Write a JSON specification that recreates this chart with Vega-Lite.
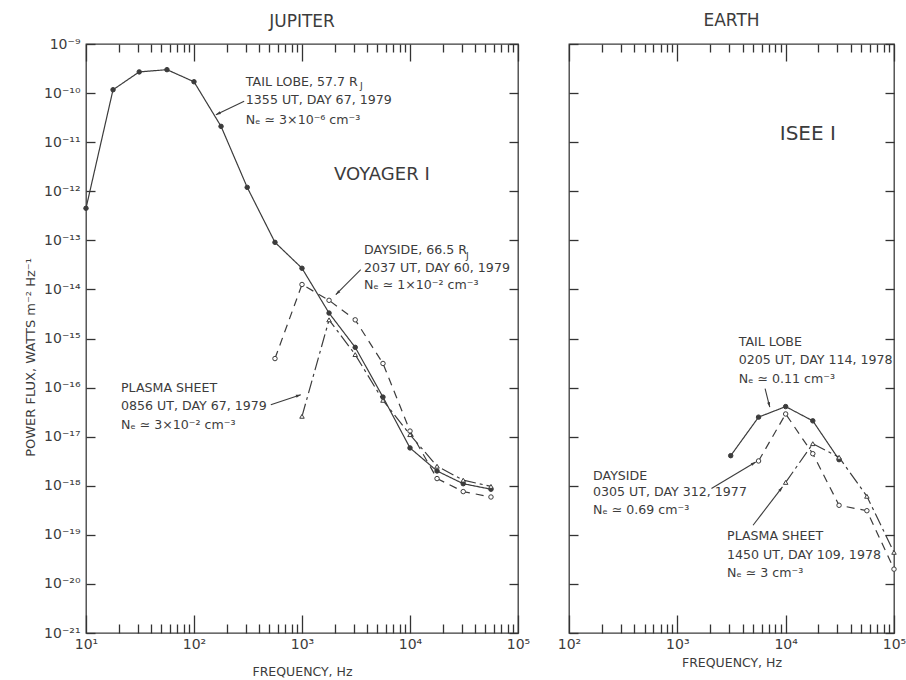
{
  "$schema": "https://vega.github.io/schema/vega-lite/v6.json",
  "background": "white",
  "padding": {"left": 23, "top": 11, "right": 0, "bottom": 5},
  "spacing": 25,
  "config": {
    "font": "DejaVu Sans",
    "view": {"stroke": "#3c3c3c", "strokeWidth": 1.3},
    "axis": {"domain": false, "grid": false, "ticks": true, "tickOpacity": 1, "zindex": 1, "tickColor": "#333333", "tickWidth": 1.3, "labelColor": "#3c3c3c", "titleColor": "#3c3c3c", "labelFont": "DejaVu Sans", "titleFont": "DejaVu Sans", "titleFontWeight": "normal", "labelFontSize": 14, "titleFontSize": 12.5, "labelOverlap": false, "labelFlush": false},
    "title": {"font": "DejaVu Sans", "fontWeight": "normal", "fontSize": 17, "color": "#3c3c3c", "offset": 6},
    "text": {"font": "DejaVu Sans", "color": "#3c3c3c"}
  },
  "datasets": {
    "jup": [
      {"series": "TAIL LOBE", "f": 10, "p": 4.5e-13},
      {"series": "TAIL LOBE", "f": 17.8, "p": 1.17e-10},
      {"series": "TAIL LOBE", "f": 31.1, "p": 2.7e-10},
      {"series": "TAIL LOBE", "f": 56.2, "p": 3.0e-10},
      {"series": "TAIL LOBE", "f": 100, "p": 1.7e-10},
      {"series": "TAIL LOBE", "f": 178, "p": 2.1e-11},
      {"series": "TAIL LOBE", "f": 311, "p": 1.2e-12},
      {"series": "TAIL LOBE", "f": 562, "p": 9.1e-14},
      {"series": "TAIL LOBE", "f": 1000, "p": 2.7e-14},
      {"series": "TAIL LOBE", "f": 1780, "p": 3.3e-15},
      {"series": "TAIL LOBE", "f": 3110, "p": 6.6e-16},
      {"series": "TAIL LOBE", "f": 5620, "p": 6.4e-17},
      {"series": "TAIL LOBE", "f": 10000, "p": 5.9e-18},
      {"series": "TAIL LOBE", "f": 17800, "p": 2.0e-18},
      {"series": "TAIL LOBE", "f": 31100, "p": 1.1e-18},
      {"series": "TAIL LOBE", "f": 56200, "p": 8.5e-19},
      {"series": "DAYSIDE", "f": 562, "p": 3.9e-16},
      {"series": "DAYSIDE", "f": 1000, "p": 1.26e-14},
      {"series": "DAYSIDE", "f": 1780, "p": 6.0e-15},
      {"series": "DAYSIDE", "f": 3110, "p": 2.4e-15},
      {"series": "DAYSIDE", "f": 5620, "p": 3.1e-16},
      {"series": "DAYSIDE", "f": 10000, "p": 1.3e-17},
      {"series": "DAYSIDE", "f": 17800, "p": 1.4e-18},
      {"series": "DAYSIDE", "f": 31100, "p": 7.6e-19},
      {"series": "DAYSIDE", "f": 56200, "p": 5.9e-19},
      {"series": "PLASMA SHEET", "f": 1000, "p": 2.6e-17},
      {"series": "PLASMA SHEET", "f": 1780, "p": 2.4e-15},
      {"series": "PLASMA SHEET", "f": 3110, "p": 4.7e-16},
      {"series": "PLASMA SHEET", "f": 5620, "p": 5.5e-17},
      {"series": "PLASMA SHEET", "f": 10000, "p": 1.1e-17},
      {"series": "PLASMA SHEET", "f": 17800, "p": 2.5e-18},
      {"series": "PLASMA SHEET", "f": 31100, "p": 1.3e-18},
      {"series": "PLASMA SHEET", "f": 56200, "p": 9.7e-19}
    ],
    "earth": [
      {"series": "TAIL LOBE", "f": 3110, "p": 4.1e-18},
      {"series": "TAIL LOBE", "f": 5620, "p": 2.5e-17},
      {"series": "TAIL LOBE", "f": 10000, "p": 4.1e-17},
      {"series": "TAIL LOBE", "f": 17800, "p": 2.1e-17},
      {"series": "TAIL LOBE", "f": 31100, "p": 3.4e-18},
      {"series": "DAYSIDE", "f": 5620, "p": 3.2e-18},
      {"series": "DAYSIDE", "f": 10000, "p": 2.9e-17},
      {"series": "DAYSIDE", "f": 17800, "p": 4.5e-18},
      {"series": "DAYSIDE", "f": 31100, "p": 4.0e-19},
      {"series": "DAYSIDE", "f": 56200, "p": 3.1e-19},
      {"series": "DAYSIDE", "f": 100000, "p": 2.0e-20},
      {"series": "PLASMA SHEET", "f": 10000, "p": 1.17e-18},
      {"series": "PLASMA SHEET", "f": 17800, "p": 7.2e-18},
      {"series": "PLASMA SHEET", "f": 31100, "p": 3.8e-18},
      {"series": "PLASMA SHEET", "f": 56200, "p": 6.1e-19},
      {"series": "PLASMA SHEET", "f": 100000, "p": 4.4e-20}
    ],
    "jupnotes": [
      {"f": 302, "p": 1.68e-10, "label": "TAIL LOBE, 57.7 R"},
      {"f": 302, "p": 7.23e-11, "label": "1355 UT, DAY 67, 1979"},
      {"f": 302, "p": 2.87e-11, "label": "Nₑ ≃ 3×10⁻⁶ cm⁻³"},
      {"f": 3754, "p": 6.26e-14, "label": "DAYSIDE, 66.5 R"},
      {"f": 3754, "p": 2.73e-14, "label": "2037 UT, DAY 60, 1979"},
      {"f": 3754, "p": 1.25e-14, "label": "Nₑ ≃ 1×10⁻² cm⁻³"},
      {"f": 21.1, "p": 9.8e-17, "label": "PLASMA SHEET"},
      {"f": 21.1, "p": 4.15e-17, "label": "0856 UT, DAY 67, 1979"},
      {"f": 21.1, "p": 1.75e-17, "label": "Nₑ ≃ 3×10⁻² cm⁻³"}
    ],
    "jupbig": [
      {"f": 1982, "p": 2.17e-12, "label": "VOYAGER I"}
    ],
    "jupsub": [
      {"f": 3449, "p": 1.39e-10, "label": "J"},
      {"f": 32960, "p": 4.79e-14, "label": "J"}
    ],
    "juparrows": [
      {"id": 1, "f": 291.4, "p": 6.8e-11, "f2": 159.4, "p2": 3.63e-11},
      {"id": 2, "f": 3500, "p": 2.52e-14, "f2": 2055, "p2": 7.8e-15},
      {"id": 3, "f": 514.4, "p": 4.48e-17, "f2": 975, "p2": 7.15e-17}
    ],
    "earthnotes": [
      {"f": 3690, "p": 8.41e-16, "label": "TAIL LOBE"},
      {"f": 3690, "p": 3.69e-16, "label": "0205 UT, DAY 114, 1978"},
      {"f": 3690, "p": 1.52e-16, "label": "Nₑ ≃ 0.11 cm⁻³"},
      {"f": 166.6, "p": 1.58e-18, "label": "DAYSIDE"},
      {"f": 166.6, "p": 7.5e-19, "label": "0305 UT, DAY 312, 1977"},
      {"f": 166.6, "p": 3.18e-19, "label": "Nₑ ≃ 0.69 cm⁻³"},
      {"f": 2877, "p": 9.55e-20, "label": "PLASMA SHEET"},
      {"f": 2877, "p": 3.87e-20, "label": "1450 UT, DAY 109, 1978"},
      {"f": 2877, "p": 1.64e-20, "label": "Nₑ ≃ 3 cm⁻³"}
    ],
    "earthbig": [
      {"f": 8820, "p": 1.5e-11, "label": "ISEE I"}
    ],
    "eartharrows": [
      {"id": 1, "f": 6454, "p": 9.49e-17, "f2": 7134, "p2": 4.01e-17},
      {"id": 2, "f": 2065, "p": 8.78e-19, "f2": 5296, "p2": 3.05e-18},
      {"id": 3, "f": 5000, "p": 1.57e-19, "f2": 9343, "p2": 9.46e-19}
    ]
  },
  "hconcat": [
    {
      "title": {"text": "JUPITER"},
      "width": 432,
      "height": 589,
      "resolve": {"axis": {"x": "independent", "y": "independent"}},
      "layer": [
        {
          "data": {"name": "jup"},
          "mark": {"type": "line", "color": "#3c3c3c", "strokeWidth": 1.2},
          "encoding": {
            "x": {"field": "f", "type": "quantitative", "scale": {"type": "log", "domain": [10, 100000], "nice": false},
              "axis": {"orient": "bottom", "title": "FREQUENCY, Hz", "titlePadding": 14,
                "values": [10, 100, 1000, 10000, 100000], "offset": -18, "tickSize": 18, "labelPadding": 4,
                "labelExpr": "'10' + ['⁰','¹','²','³','⁴','⁵'][round(log(datum.value)/LN10)]"}},
            "y": {"field": "p", "type": "quantitative", "scale": {"type": "log", "domain": [1e-21, 1e-9], "nice": false},
              "axis": {"orient": "left", "title": "POWER FLUX, WATTS m⁻² Hz⁻¹", "titleFontSize": 13, "titlePadding": 10,
                "titleX": -64.7, "titleY": 313, "titleBaseline": "middle", "titleAlign": "center", "titleAngle": -90,
                "values": [1e-21,1e-20,1e-19,1e-18,1e-17,1e-16,1e-15,1e-14,1e-13,1e-12,1e-11,1e-10,1e-9],
                "offset": -9, "tickSize": 9, "labelPadding": 6,
                "labelExpr": "'10⁻' + (round(-log(datum.value)/LN10) >= 10 ? ['⁰','¹','²','³','⁴','⁵','⁶','⁷','⁸','⁹'][floor(round(-log(datum.value)/LN10)/10)] : '') + ['⁰','¹','²','³','⁴','⁵','⁶','⁷','⁸','⁹'][round(-log(datum.value)/LN10) % 10]"}},
            "strokeDash": {"field": "series", "type": "nominal", "scale": {"domain": ["TAIL LOBE", "DAYSIDE", "PLASMA SHEET"], "range": [[1, 0], [8, 6], [13, 4, 3, 4]]}, "legend": null}
          }
        },
        {
          "data": {"name": "jup"},
          "mark": {"type": "point", "filled": true, "stroke": "#3c3c3c", "strokeWidth": 1, "size": 20, "opacity": 1},
          "encoding": {
            "x": {"field": "f", "type": "quantitative",
              "axis": {"orient": "bottom", "title": null, "labels": false, "offset": -9, "tickSize": 9,
                "values": [20,30,40,50,60,70,80,90,200,300,400,500,600,700,800,900,2000,3000,4000,5000,6000,7000,8000,9000,20000,30000,40000,50000,60000,70000,80000,90000]}},
            "y": {"field": "p", "type": "quantitative",
              "axis": {"orient": "right", "title": null, "labels": false, "offset": -9, "tickSize": 9,
                "values": [1e-21,1e-20,1e-19,1e-18,1e-17,1e-16,1e-15,1e-14,1e-13,1e-12,1e-11,1e-10,1e-9]}},
            "shape": {"field": "series", "type": "nominal", "scale": {"domain": ["TAIL LOBE", "DAYSIDE", "PLASMA SHEET"], "range": ["circle", "circle", "triangle-up"]}, "legend": null},
            "fill": {"field": "series", "type": "nominal", "scale": {"domain": ["TAIL LOBE", "DAYSIDE", "PLASMA SHEET"], "range": ["#3c3c3c", "white", "white"]}, "legend": null}
          }
        },
        {
          "data": {"name": "juparrows"},
          "mark": {"type": "rule", "color": "#3c3c3c", "strokeWidth": 1.1},
          "encoding": {
            "x": {"field": "f", "type": "quantitative",
              "axis": {"orient": "top", "title": null, "labels": false, "offset": -17, "tickSize": 17, "values": [10, 100, 1000, 10000, 100000]}},
            "y": {"field": "p", "type": "quantitative", "axis": null},
            "x2": {"field": "f2"},
            "y2": {"field": "p2"}
          }
        },
        {
          "data": {"name": "jupnotes"},
          "mark": {"type": "text", "align": "left", "baseline": "middle", "fontSize": 12.6},
          "encoding": {
            "x": {"field": "f", "type": "quantitative",
              "axis": {"orient": "top", "title": null, "labels": false, "offset": -8, "tickSize": 8,
                "values": [20,30,40,50,60,70,80,90,200,300,400,500,600,700,800,900,2000,3000,4000,5000,6000,7000,8000,9000,20000,30000,40000,50000,60000,70000,80000,90000]}},
            "y": {"field": "p", "type": "quantitative", "axis": null},
            "text": {"field": "label"}
          }
        },
        {
          "data": {"name": "jupsub"},
          "mark": {"type": "text", "align": "left", "baseline": "middle", "fontSize": 9.5},
          "encoding": {
            "x": {"field": "f", "type": "quantitative", "axis": null},
            "y": {"field": "p", "type": "quantitative", "axis": null},
            "text": {"field": "label"}
          }
        },
        {
          "data": {"name": "jupbig"},
          "mark": {"type": "text", "align": "left", "baseline": "middle", "fontSize": 18},
          "encoding": {
            "x": {"field": "f", "type": "quantitative", "axis": null},
            "y": {"field": "p", "type": "quantitative", "axis": null},
            "text": {"field": "label"}
          }
        },
        {
          "data": {"name": "juparrows"},
          "transform": [{"filter": "datum.id == 1"}],
          "mark": {"type": "point", "shape": "M0,0L0.55,1.8L-0.55,1.8Z", "filled": true, "color": "#3c3c3c", "size": 30, "opacity": 1, "angle": 245},
          "encoding": {"x": {"field": "f2", "type": "quantitative", "axis": null}, "y": {"field": "p2", "type": "quantitative", "axis": null}}
        },
        {
          "data": {"name": "juparrows"},
          "transform": [{"filter": "datum.id == 2"}],
          "mark": {"type": "point", "shape": "M0,0L0.55,1.8L-0.55,1.8Z", "filled": true, "color": "#3c3c3c", "size": 30, "opacity": 1, "angle": 225},
          "encoding": {"x": {"field": "f2", "type": "quantitative", "axis": null}, "y": {"field": "p2", "type": "quantitative", "axis": null}}
        },
        {
          "data": {"name": "juparrows"},
          "transform": [{"filter": "datum.id == 3"}],
          "mark": {"type": "point", "shape": "M0,0L0.55,1.8L-0.55,1.8Z", "filled": true, "color": "#3c3c3c", "size": 30, "opacity": 1, "angle": 72},
          "encoding": {"x": {"field": "f2", "type": "quantitative", "axis": null}, "y": {"field": "p2", "type": "quantitative", "axis": null}}
        }
      ]
    },
    {
      "title": {"text": "EARTH", "offset": 13},
      "width": 325,
      "height": 589,
      "resolve": {"axis": {"x": "independent", "y": "independent"}},
      "layer": [
        {
          "data": {"name": "earth"},
          "mark": {"type": "line", "color": "#3c3c3c", "strokeWidth": 1.2},
          "encoding": {
            "x": {"field": "f", "type": "quantitative", "scale": {"type": "log", "domain": [100, 100000], "nice": false},
              "axis": {"orient": "bottom", "title": "FREQUENCY, Hz", "titlePadding": 5,
                "values": [100, 1000, 10000, 100000], "offset": -18, "tickSize": 18, "labelPadding": 4,
                "labelExpr": "'10' + ['⁰','¹','²','³','⁴','⁵'][round(log(datum.value)/LN10)]"}},
            "y": {"field": "p", "type": "quantitative", "scale": {"type": "log", "domain": [1e-21, 1e-9], "nice": false},
              "axis": {"orient": "left", "title": null, "labels": false, "offset": -9, "tickSize": 9,
                "values": [1e-21,1e-20,1e-19,1e-18,1e-17,1e-16,1e-15,1e-14,1e-13,1e-12,1e-11,1e-10,1e-9]}},
            "strokeDash": {"field": "series", "type": "nominal", "scale": {"domain": ["TAIL LOBE", "DAYSIDE", "PLASMA SHEET"], "range": [[1, 0], [8, 6], [13, 4, 3, 4]]}, "legend": null}
          }
        },
        {
          "data": {"name": "earth"},
          "mark": {"type": "point", "filled": true, "stroke": "#3c3c3c", "strokeWidth": 1, "size": 20, "opacity": 1},
          "encoding": {
            "x": {"field": "f", "type": "quantitative",
              "axis": {"orient": "bottom", "title": null, "labels": false, "offset": -9, "tickSize": 9,
                "values": [200,300,400,500,600,700,800,900,2000,3000,4000,5000,6000,7000,8000,9000,20000,30000,40000,50000,60000,70000,80000,90000]}},
            "y": {"field": "p", "type": "quantitative",
              "axis": {"orient": "right", "title": null, "labels": false, "offset": -9, "tickSize": 9,
                "values": [1e-21,1e-20,1e-19,1e-18,1e-17,1e-16,1e-15,1e-14,1e-13,1e-12,1e-11,1e-10,1e-9]}},
            "shape": {"field": "series", "type": "nominal", "scale": {"domain": ["TAIL LOBE", "DAYSIDE", "PLASMA SHEET"], "range": ["circle", "circle", "triangle-up"]}, "legend": null},
            "fill": {"field": "series", "type": "nominal", "scale": {"domain": ["TAIL LOBE", "DAYSIDE", "PLASMA SHEET"], "range": ["#3c3c3c", "white", "white"]}, "legend": null}
          }
        },
        {
          "data": {"name": "eartharrows"},
          "mark": {"type": "rule", "color": "#3c3c3c", "strokeWidth": 1.1},
          "encoding": {
            "x": {"field": "f", "type": "quantitative",
              "axis": {"orient": "top", "title": null, "labels": false, "offset": -17, "tickSize": 17, "values": [100, 1000, 10000, 100000]}},
            "y": {"field": "p", "type": "quantitative", "axis": null},
            "x2": {"field": "f2"},
            "y2": {"field": "p2"}
          }
        },
        {
          "data": {"name": "earthnotes"},
          "mark": {"type": "text", "align": "left", "baseline": "middle", "fontSize": 12.6},
          "encoding": {
            "x": {"field": "f", "type": "quantitative",
              "axis": {"orient": "top", "title": null, "labels": false, "offset": -8, "tickSize": 8,
                "values": [200,300,400,500,600,700,800,900,2000,3000,4000,5000,6000,7000,8000,9000,20000,30000,40000,50000,60000,70000,80000,90000]}},
            "y": {"field": "p", "type": "quantitative", "axis": null},
            "text": {"field": "label"}
          }
        },
        {
          "data": {"name": "earthbig"},
          "mark": {"type": "text", "align": "left", "baseline": "middle", "fontSize": 20},
          "encoding": {
            "x": {"field": "f", "type": "quantitative", "axis": null},
            "y": {"field": "p", "type": "quantitative", "axis": null},
            "text": {"field": "label"}
          }
        },
        {
          "data": {"name": "eartharrows"},
          "transform": [{"filter": "datum.id == 1"}],
          "mark": {"type": "point", "shape": "M0,0L0.55,1.8L-0.55,1.8Z", "filled": true, "color": "#3c3c3c", "size": 30, "opacity": 1, "angle": 166},
          "encoding": {"x": {"field": "f2", "type": "quantitative", "axis": null}, "y": {"field": "p2", "type": "quantitative", "axis": null}}
        },
        {
          "data": {"name": "eartharrows"},
          "transform": [{"filter": "datum.id == 2"}],
          "mark": {"type": "point", "shape": "M0,0L0.55,1.8L-0.55,1.8Z", "filled": true, "color": "#3c3c3c", "size": 30, "opacity": 1, "angle": 59},
          "encoding": {"x": {"field": "f2", "type": "quantitative", "axis": null}, "y": {"field": "p2", "type": "quantitative", "axis": null}}
        },
        {
          "data": {"name": "eartharrows"},
          "transform": [{"filter": "datum.id == 3"}],
          "mark": {"type": "point", "shape": "M0,0L0.55,1.8L-0.55,1.8Z", "filled": true, "color": "#3c3c3c", "size": 30, "opacity": 1, "angle": 38},
          "encoding": {"x": {"field": "f2", "type": "quantitative", "axis": null}, "y": {"field": "p2", "type": "quantitative", "axis": null}}
        }
      ]
    }
  ]
}
